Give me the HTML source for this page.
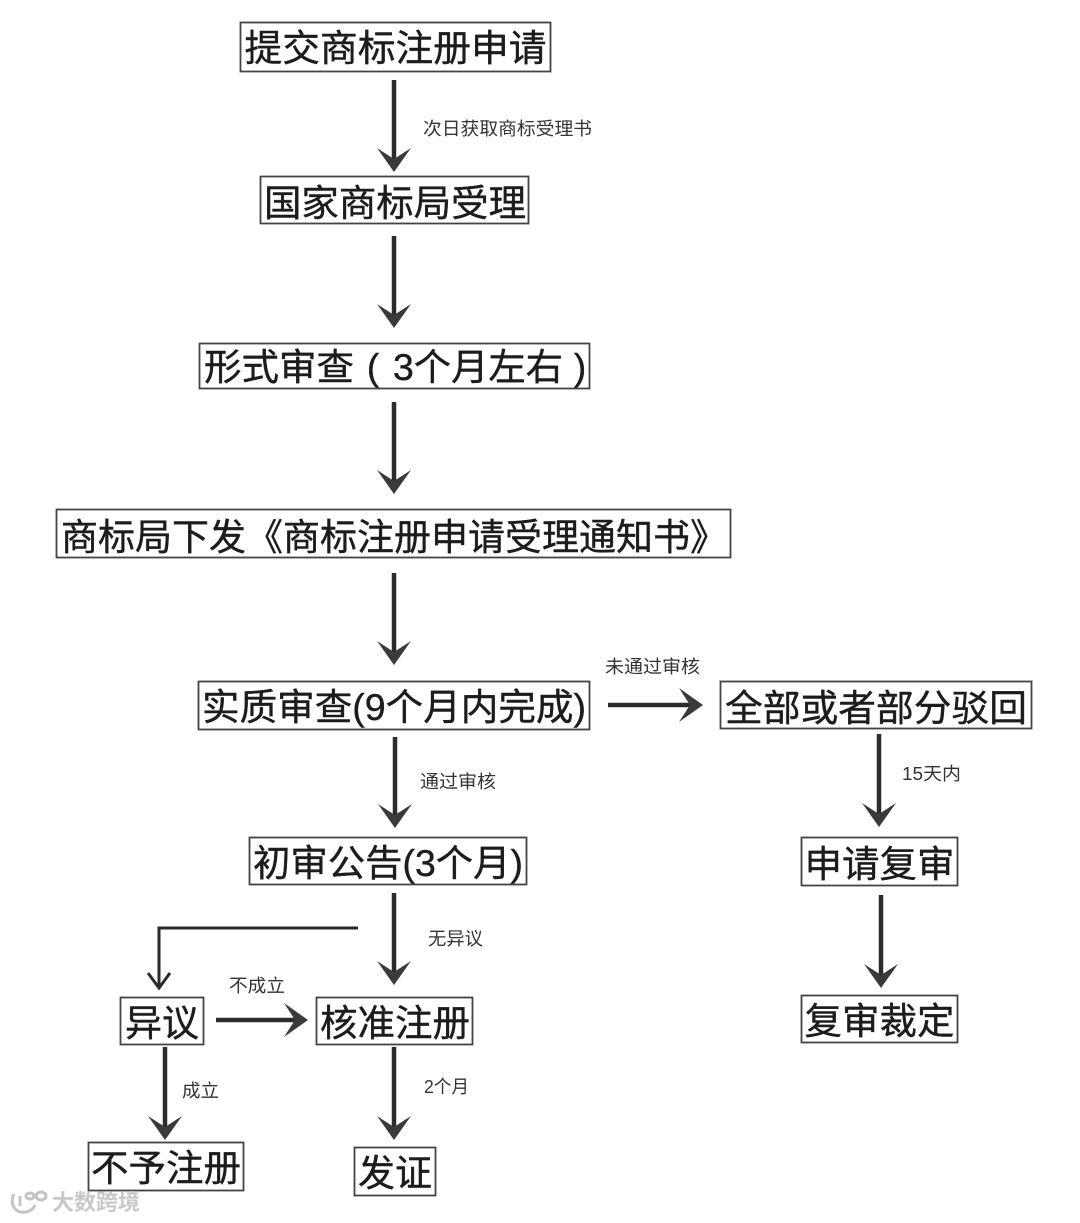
<!DOCTYPE html>
<html lang="zh">
<head>
<meta charset="utf-8">
<style>
html,body{margin:0;padding:0;background:#fff;width:1080px;height:1223px;overflow:hidden}
svg{display:block}
.b{fill:#fff;stroke:#444;stroke-width:1.8}
.t{font-family:"Liberation Sans","Noto Sans CJK SC",sans-serif;font-size:37px;fill:#1c1c1c;stroke:#1c1c1c;stroke-width:.4;text-anchor:middle}
.s{font-family:"Liberation Sans","Noto Sans CJK SC",sans-serif;font-size:18px;fill:#333}
.l{stroke:#2b2b2b;stroke-width:4.5;fill:none}
.h{fill:#3a3a3a}
</style>
</head>
<body>
<svg width="1080" height="1223" viewBox="0 0 1080 1223" xmlns="http://www.w3.org/2000/svg">
<defs>
<path id="hd" class="h" d="M0 0L-17-24L0-13L17-24Z"/>
<path id="hr" class="h" d="M0 0L-24-17L-13 0L-24 17Z"/>
</defs>

<rect class="b" x="240.500" y="22.500" width="310" height="49"/>
<text class="t" x="395.500" y="61" textLength="302" lengthAdjust="spacingAndGlyphs">提交商标注册申请</text>
<rect class="b" x="260.500" y="176.500" width="268" height="47"/>
<text class="t" x="395" y="216" textLength="262" lengthAdjust="spacingAndGlyphs">国家商标局受理</text>
<rect class="b" x="199.500" y="343.500" width="390" height="45"/>
<text class="t" x="279" y="380" textLength="150" lengthAdjust="spacingAndGlyphs">形式审查</text>
<text class="t" x="373" y="380">(</text>
<text class="t" x="478" y="380" textLength="170" lengthAdjust="spacingAndGlyphs">3个月左右</text>
<text class="t" x="580" y="380">)</text>
<rect class="b" x="56.500" y="509.500" width="674" height="48"/>
<text class="t" x="394" y="550" textLength="666" lengthAdjust="spacingAndGlyphs">商标局下发《商标注册申请受理通知书》</text>
<rect class="b" x="198.500" y="681.500" width="391" height="48"/>
<text class="t" x="394" y="720" textLength="384" lengthAdjust="spacingAndGlyphs">实质审查(9个月内完成)</text>
<rect class="b" x="720.500" y="681.500" width="311" height="47"/>
<text class="t" x="876" y="721" textLength="302" lengthAdjust="spacingAndGlyphs">全部或者部分驳回</text>
<rect class="b" x="249.500" y="837.500" width="277" height="47"/>
<text class="t" x="388" y="876" textLength="270" lengthAdjust="spacingAndGlyphs">初审公告(3个月)</text>
<rect class="b" x="801.500" y="837.500" width="156" height="48"/>
<text class="t" x="879.500" y="877" textLength="150" lengthAdjust="spacingAndGlyphs">申请复审</text>
<rect class="b" x="120.500" y="997.500" width="83" height="47"/>
<text class="t" x="162" y="1036" textLength="74" lengthAdjust="spacingAndGlyphs">异议</text>
<rect class="b" x="316.500" y="997.500" width="156" height="47"/>
<text class="t" x="395" y="1036" textLength="150" lengthAdjust="spacingAndGlyphs">核准注册</text>
<rect class="b" x="801.500" y="995.500" width="156" height="47"/>
<text class="t" x="879.500" y="1034" textLength="150" lengthAdjust="spacingAndGlyphs">复审裁定</text>
<rect class="b" x="88.500" y="1142.500" width="155" height="48"/>
<text class="t" x="166" y="1181" textLength="150" lengthAdjust="spacingAndGlyphs">不予注册</text>
<rect class="b" x="354.500" y="1147.500" width="81" height="48"/>
<text class="t" x="395" y="1186" textLength="74" lengthAdjust="spacingAndGlyphs">发证</text>

<path class="l" d="M394 80V160"/><use href="#hd" x="394" y="172"/>
<path class="l" d="M394 236V316"/><use href="#hd" x="394" y="328"/>
<path class="l" d="M394 402V482"/><use href="#hd" x="394" y="494"/>
<path class="l" d="M394 573V653"/><use href="#hd" x="394" y="665"/>
<path class="l" d="M395 737V815"/><use href="#hd" x="395" y="828"/>
<path class="l" d="M879 734V815"/><use href="#hd" x="879" y="827"/>
<path class="l" d="M881 895V976"/><use href="#hd" x="881" y="988"/>
<path class="l" d="M394 893V973"/><use href="#hd" x="394" y="985"/>
<path class="l" d="M165 1047V1128"/><use href="#hd" x="165" y="1140"/>
<path class="l" d="M394 1047V1128"/><use href="#hd" x="394" y="1140"/>
<path class="l" d="M608 705H691"/><use href="#hr" x="703" y="705"/>
<path class="l" d="M216 1020H296"/><use href="#hr" x="308" y="1020"/>
<path d="M358 928H159V987" fill="none" stroke="#2b2b2b" stroke-width="3"/>
<path d="M148 973L159 988L170 973" fill="none" stroke="#2b2b2b" stroke-width="3"/>

<text class="s" x="423" y="135" textLength="169" lengthAdjust="spacingAndGlyphs">次日获取商标受理书</text>
<text class="s" x="605" y="673" textLength="95" lengthAdjust="spacingAndGlyphs">未通过审核</text>
<text class="s" x="420" y="788" textLength="76" lengthAdjust="spacingAndGlyphs">通过审核</text>
<text class="s" x="902" y="780" textLength="59" lengthAdjust="spacingAndGlyphs">15天内</text>
<text class="s" x="428" y="945" textLength="55" lengthAdjust="spacingAndGlyphs">无异议</text>
<text class="s" x="229" y="992" textLength="56" lengthAdjust="spacingAndGlyphs">不成立</text>
<text class="s" x="182" y="1097" textLength="37" lengthAdjust="spacingAndGlyphs">成立</text>
<text class="s" x="424" y="1093" textLength="45" lengthAdjust="spacingAndGlyphs">2个月</text>

<g fill="none" stroke="#c4c4c4" stroke-width="3">
<path d="M14 1194C9 1204 15 1214 26 1212C31 1211 34 1208 35 1205"/>
<path d="M20 1196V1206"/>
<ellipse cx="30" cy="1196" rx="4" ry="3"/>
<ellipse cx="41" cy="1196" rx="5" ry="4"/>
</g>
<text x="52" y="1210" font-family="'Liberation Sans','Noto Sans CJK SC',sans-serif" font-size="22" fill="#c8c8c8" font-weight="700" textLength="88" lengthAdjust="spacingAndGlyphs">大数跨境</text>
</svg>
</body>
</html>
